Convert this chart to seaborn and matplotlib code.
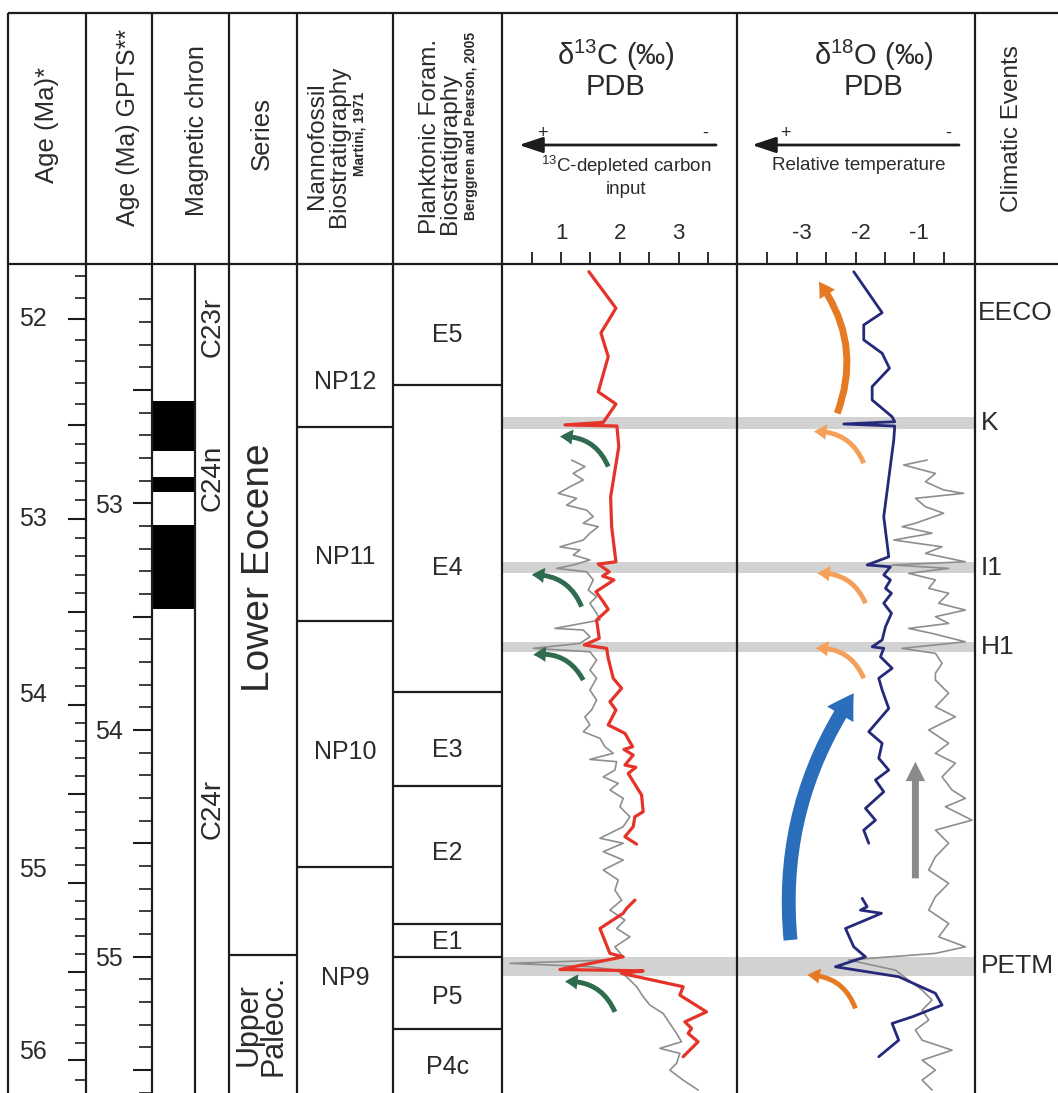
import numpy as np
import pandas as pd
import matplotlib
matplotlib.use("Agg")
import matplotlib.pyplot as plt
import seaborn as sns
from matplotlib.patches import FancyArrowPatch
from matplotlib.transforms import ScaledTranslation, blended_transform_factory

# ---------------------------------------------------------------- data
# vertical axis of every column: Age (Ma) on the GPTS scale
# Age* scale calibration (Age* value -> GPTS position)
star_cal_age = [51.8, 52.0, 52.5, 53.0, 53.5, 54.0, 54.5, 55.0, 55.5, 56.0, 56.1]
star_cal_gpts = [51.997, 52.187, 52.654, 53.069, 53.480, 53.890, 54.283, 54.676, 55.068, 55.457, 55.545]
age_star_major = [52.0, 52.5, 53.0, 53.5, 54.0, 54.5, 55.0, 55.5, 56.0]
age_star_minor = [51.8, 51.9, 52.1, 52.2, 52.3, 52.4, 52.6, 52.7, 52.8, 52.9,
                  53.1, 53.2, 53.3, 53.4, 53.6, 53.7, 53.8, 53.9, 54.1, 54.2,
                  54.3, 54.4, 54.6, 54.7, 54.8, 54.9, 55.1, 55.2, 55.3, 55.4,
                  55.6, 55.7, 55.8, 55.9, 56.1]
age_star_labels = ["52", "53", "54", "55", "56"]
age_star_label_val = [52.0, 53.0, 54.0, 55.0, 56.0]
gpts_major = [52.5, 53.0, 53.5, 54.0, 54.5, 55.0, 55.5]
gpts_labels = ["", "53", "", "54", "", "55", ""]
gpts_minor = [52.1, 52.2, 52.3, 52.4, 52.6, 52.7, 52.8, 52.9, 53.1, 53.2, 53.3, 53.4,
              53.6, 53.7, 53.8, 53.9, 54.1, 54.2, 54.3, 54.4, 54.6, 54.7, 54.8, 54.9,
              55.1, 55.2, 55.3, 55.4, 55.6]

# magnetic polarity (normal = black)
normal_top = [52.549, 52.885, 53.097]
normal_base = [52.770, 52.951, 53.465]
chron_names = ["C23r", "C24n", "C24r"]
chron_label_age = [52.222, 52.888, 54.349]

series_names = ["Lower Eocene", "Upper\nPaleoc."]
series_label_age = [53.286, 55.302]
series_bounds = [54.993]

nanno_names = ["NP12", "NP11", "NP10", "NP9"]
nanno_label_age = [52.465, 53.237, 54.098, 55.095]
nanno_bounds = [52.663, 53.519, 54.605]

plank_names = ["E5", "E4", "E3", "E2", "E1", "P5", "P4c"]
plank_label_age = [52.257, 53.286, 54.089, 54.543, 54.936, 55.179, 55.488]
plank_bounds = [52.478, 53.833, 54.248, 54.857, 55.002, 55.320]

event_names = ["K", "I1", "H1", "PETM"]
event_top = [52.621, 53.258, 53.611, 55.001]
event_base = [52.674, 53.309, 53.655, 55.086]
eeco_label_age = 52.160

# d13C coarse record (red), two segments
d13c_red_age_a = [51.978, 52.139, 52.248, 52.353, 52.508, 52.562, 52.643, 52.654, 52.659, 52.750,
                  52.971, 53.103, 53.258, 53.268, 53.302, 53.321, 53.338, 53.390, 53.434, 53.468,
                  53.515, 53.596, 53.625, 53.640, 53.684, 53.772, 53.816, 53.876, 53.912, 53.978,
                  54.015, 54.074, 54.086, 54.111, 54.155, 54.165, 54.192, 54.287, 54.361, 54.383,
                  54.427, 54.471, 54.504]
d13c_red_val_a = [1.474, 1.934, 1.679, 1.803, 1.633, 1.934, 1.718, 1.066, 1.951, 1.983,
                  1.844, 1.861, 1.934, 1.633, 1.820, 1.707, 1.900, 1.594, 1.718, 1.803,
                  1.605, 1.650, 1.395, 1.776, 1.803, 1.888, 2.031, 1.832, 1.934, 1.803,
                  2.087, 2.218, 2.070, 2.228, 2.087, 2.274, 2.143, 2.371, 2.398, 2.257,
                  2.228, 2.087, 2.286]
d13c_red_age_b = [54.751, 54.787, 54.809, 54.876, 54.986, 55.001, 55.057, 55.063, 55.074, 55.133,
                  55.170, 55.244, 55.288, 55.317, 55.339, 55.376, 55.442]
d13c_red_val_b = [2.257, 2.116, 2.058, 1.662, 1.832, 2.058, 0.981, 2.398, 2.031, 3.078,
                  3.022, 3.476, 3.107, 3.221, 3.163, 3.333, 3.078]

# d13C high-resolution record (grey)
d13c_grey_age = [52.809, 52.838, 52.868, 52.897, 52.927, 52.956, 52.978, 53.008, 53.030, 53.059,
                 53.088, 53.103, 53.132, 53.162, 53.192, 53.206, 53.228, 53.250, 53.272, 53.287,
                 53.302, 53.338, 53.383, 53.412, 53.441, 53.485, 53.515, 53.552, 53.559, 53.589,
                 53.618, 53.640, 53.655, 53.692, 53.736, 53.772, 53.824, 53.868, 53.912, 53.942,
                 53.978, 54.008, 54.037, 54.074, 54.103, 54.130, 54.140, 54.177, 54.207, 54.236,
                 54.265, 54.302, 54.339, 54.383, 54.427, 54.478, 54.500, 54.537, 54.574, 54.618,
                 54.662, 54.707, 54.751, 54.795, 54.839, 54.876, 54.913, 54.957, 54.993, 55.015,
                 55.030, 55.045, 55.060, 55.089, 55.133, 55.177, 55.214, 55.251, 55.295, 55.339,
                 55.376, 55.405, 55.427, 55.471, 55.501, 55.545, 55.589]
d13c_grey_val = [1.180, 1.406, 1.207, 1.378, 1.151, 0.952, 1.265, 1.095, 1.435, 1.548,
                 1.378, 1.633, 1.491, 1.378, 0.981, 1.321, 1.207, 1.491, 1.207, 0.925,
                 1.435, 1.548, 1.463, 1.605, 1.491, 1.605, 1.662, 0.896, 1.378, 1.491,
                 1.321, 0.527, 1.491, 1.605, 1.491, 1.605, 1.491, 1.605, 1.520, 1.406,
                 1.491, 1.378, 1.662, 1.747, 1.888, 1.491, 1.946, 1.917, 1.718, 1.973,
                 1.832, 2.058, 2.002, 2.172, 2.058, 1.662, 2.058, 1.718, 2.058, 1.718,
                 1.973, 1.917, 2.031, 1.832, 2.087, 1.946, 2.172, 1.917, 2.031, 1.832,
                 0.131, 1.491, 1.946, 2.116, 2.286, 2.398, 2.512, 2.738, 2.852, 2.966,
                 3.051, 2.682, 3.022, 2.966, 2.852, 3.078, 3.333]

# d18O coarse record (navy), two segments
d18o_navy_age_a = [51.978, 52.159, 52.213, 52.279, 52.338, 52.404, 52.485, 52.544, 52.618, 52.640,
                   52.650, 52.659, 52.721, 53.059, 53.236, 53.272, 53.280, 53.316, 53.338, 53.375,
                   53.397, 53.441, 53.485, 53.545, 53.603, 53.633, 53.640, 53.677, 53.728, 53.772,
                   53.824, 53.905, 54.008, 54.059, 54.125, 54.177, 54.221, 54.273, 54.346, 54.398,
                   54.442, 54.500]
d18o_navy_val_a = [-2.031, -1.548, -1.861, -1.861, -1.548, -1.424, -1.718, -1.718, -1.379, -1.334,
                   -2.200, -1.334, -1.351, -1.521, -1.436, -1.803, -1.407, -1.521, -1.407, -1.492,
                   -1.390, -1.521, -1.390, -1.492, -1.548, -1.718, -1.521, -1.577, -1.379, -1.606,
                   -1.548, -1.436, -1.776, -1.548, -1.606, -1.436, -1.662, -1.521, -1.832, -1.662,
                   -1.861, -1.776]
d18o_navy_age_b = [54.743, 54.780, 54.795, 54.809, 54.839, 54.876, 54.957, 55.001, 55.045, 55.089,
                   55.162, 55.214, 55.266, 55.295, 55.369, 55.442]
d18o_navy_val_b = [-1.888, -1.803, -1.917, -1.560, -1.832, -2.171, -2.031, -1.832, -2.341, -1.267,
                   -0.643, -0.530, -1.039, -1.379, -1.267, -1.606]

# d18O high-resolution record (grey)
d18o_grey_age = [52.809, 52.831, 52.868, 52.905, 52.941, 52.956, 52.978, 53.015, 53.044, 53.088,
                 53.103, 53.132, 53.162, 53.192, 53.221, 53.258, 53.272, 53.287, 53.309, 53.338,
                 53.375, 53.397, 53.441, 53.471, 53.500, 53.530, 53.552, 53.574, 53.611, 53.640,
                 53.662, 53.706, 53.750, 53.780, 53.838, 53.898, 53.942, 54.000, 54.059, 54.103,
                 54.147, 54.207, 54.265, 54.302, 54.339, 54.398, 54.442, 54.500, 54.560, 54.618,
                 54.677, 54.736, 54.795, 54.854, 54.913, 54.957, 54.986, 55.015, 55.060, 55.104,
                 55.148, 55.192, 55.236, 55.280, 55.324, 55.369, 55.413, 55.457, 55.501, 55.545,
                 55.589]
d18o_grey_val = [-0.784, -1.182, -0.643, -0.813, -0.503, -0.163, -0.983, -0.813, -0.503, -0.983,
                 -1.209, -0.700, -1.351, -0.530, -0.813, -0.134, -1.379, -0.418, -1.097, -0.643,
                 -0.757, -0.418, -0.587, -0.134, -0.643, -0.418, -1.097, -0.700, -0.134, -1.209,
                 -0.643, -0.530, -0.643, -0.643, -0.418, -0.643, -0.304, -0.757, -0.418, -0.643,
                 -0.304, -0.530, -0.360, -0.134, -0.474, -0.020, -0.643, -0.418, -0.643, -0.757,
                 -0.418, -0.643, -0.757, -0.418, -0.587, -0.134, -0.643, -2.115, -1.323, -1.097,
                 -0.869, -0.700, -0.869, -0.757, -0.983, -0.869, -0.360, -0.869, -0.643, -0.869,
                 -0.700]

# annotation arrows (value, age): tail -> head
c13_arrow_tail_val = [1.803, 1.350, 1.378, 1.917]
c13_arrow_tail_age = [52.838, 53.456, 53.780, 55.244]
c13_arrow_head_val = [0.981, 0.500, 0.527, 1.066]
c13_arrow_head_age = [52.706, 53.316, 53.669, 55.111]
o18_arrow_tail_val = [-1.861, -1.832, -1.861, -2.002]
o18_arrow_tail_age = [52.823, 53.441, 53.772, 55.229]
o18_arrow_head_val = [-2.710, -2.652, -2.681, -2.822]
o18_arrow_head_age = [52.684, 53.309, 53.640, 55.082]
eeco_arrow = [(-2.312, 52.603), (-2.625, 52.022)]
cooling_arrow = [(-3.105, 54.927), (-2.031, 53.838)]
trend_arrow = [(-0.983, 54.655), (-0.983, 54.140)]

# ---------------------------------------------------------------- style
sns.set_theme(style="white")
plt.rcParams['font.family'] = ['Liberation Sans', 'DejaVu Sans']
plt.rcParams['mathtext.fontset'] = 'custom'
plt.rcParams['mathtext.rm'] = 'Liberation Sans'
plt.rcParams['mathtext.it'] = 'Liberation Sans:italic'
plt.rcParams['mathtext.bf'] = 'Liberation Sans:bold'
plt.rcParams['axes.unicode_minus'] = False

INK = '#2b2b2b'
LINE = '#1c1c1c'
RED = '#e5332a'
NAVY = '#25297a'
GREY = '#8e8e8e'
BAND = '#d2d2d2'
GREEN = '#2f6b4f'
ORANGE_L = '#f5a05a'
ORANGE_D = '#e57a22'
BLUE = '#2a6dbb'

W, H = 1058, 1093
TOP, BOT, HTOP = 264, 1093, 13
edges = [8, 86, 152, 229, 297, 393, 502.3, 737.3, 975, 1058]
AGE_TOP, AGE_BOT = 51.944, 55.602

fig = plt.figure(figsize=(W / 100, H / 100), dpi=100, facecolor='white')
bg = fig.add_axes([0, 0, 1, 1], zorder=0)
bg.set_xlim(0, W)
bg.set_ylim(H, 0)
bg.axis('off')

cols = []
for i in range(9):
    x0, x1 = edges[i], edges[i + 1]
    ax = fig.add_axes([x0 / W, 1 - BOT / H, (x1 - x0) / W, (BOT - TOP) / H], zorder=2)
    ax.set_facecolor('none')
    for s in ['top', 'bottom', 'right']:
        ax.spines[s].set_visible(False)
    ax.spines['left'].set_color(LINE)
    ax.spines['left'].set_linewidth(1.6)
    ax.tick_params(left=False, bottom=False, top=False, right=False,
                   labelleft=False, labelbottom=False)
    ax.grid(False)
    cols.append(ax)

# header frame
bg.hlines([HTOP, TOP], edges[0], W, color=LINE, lw=1.6)
bg.vlines(edges[:-1], HTOP, TOP, color=LINE, lw=1.6)


def htext(x, y, s, fs=18, rot=90, **kw):
    bg.text(x, y, s, fontsize=fs, rotation=rot, ha='center', va='center',
            color=INK, **kw)


htext(47, 125, "Age (Ma)*", 18.5)
htext(128, 127, "Age (Ma) GPTS**", 18)
htext(197, 131, "Magnetic chron", 18)
htext(262, 133, "Series", 18.5)
htext(328, 146, "Nannofossil\nBiostratigraphy", 17.5, linespacing=0.98,
      multialignment='center')
htext(360, 134, "Martini, 1971", 10, fontweight='bold')
htext(440, 136, "Planktonic Foram.\nBiostratigraphy", 17.5, linespacing=0.9,
      multialignment='left')
htext(471, 126, "Berggren and Pearson, 2005", 10, fontweight='bold')
htext(1012, 129, "Climatic Events", 17.5)

htext(616, 55, r"δ$^{\mathrm{13}}$C (‰)", 21, rot=0)
htext(616, 87, "PDB", 21, rot=0)
htext(626, 166, r"$^{\mathrm{13}}$C-depleted carbon", 13.5, rot=0)
htext(626, 189, "input", 13.5, rot=0)
htext(542, 133, "+", 13, rot=0)
htext(705, 133, "-", 13, rot=0)
htext(874, 55, r"δ$^{\mathrm{18}}$O (‰)", 21, rot=0)
htext(873, 87, "PDB", 21, rot=0)
htext(859, 166, "Relative temperature", 13.5, rot=0)
htext(785, 133, "+", 13, rot=0)
htext(948, 133, "-", 13, rot=0)
for (xa, xb) in [(716, 519), (959, 752)]:
    bg.add_patch(FancyArrowPatch((xa, 145), (xb, 145),
                                 arrowstyle='-|>,head_length=0.9,head_width=0.3',
                                 mutation_scale=16, lw=2, color=LINE,
                                 shrinkA=0, shrinkB=0))


def profile(ax, vals, ages, color, lw, z):
    df = pd.DataFrame({'value': vals, 'age': ages})
    sns.lineplot(data=df, x='value', y='age', sort=False, estimator=None,
                 ax=ax, color=color, lw=lw, zorder=z)
    ax.set_xlabel('')
    ax.set_ylabel('')


def curved_arrow(ax, tail, head, color, rad, style):
    ax.add_patch(FancyArrowPatch(tail, head, connectionstyle=f"arc3,rad={rad}",
                                 arrowstyle=style, color=color, lw=0,
                                 mutation_scale=1, shrinkA=0, shrinkB=0, zorder=4))


# ---- column 1: Age* labels (slightly raised in the lower part, as in the original)
ax = cols[0]
ax.set_xlim(0, 1)
label_dy_px = [0, 0, 10, 13, 8]
tr = blended_transform_factory(ax.transAxes, ax.transData)
for lab, v, dy in zip(age_star_labels, age_star_label_val, label_dy_px):
    ax.text(0.32, np.interp(v, star_cal_age, star_cal_gpts), lab, ha='center', va='center',
            fontsize=18, color=INK,
            transform=tr + ScaledTranslation(0, dy / 100, fig.dpi_scale_trans))

# ---- column 2: Age* ruler (ticks on its left edge)
ax = cols[1]
ax.set_yticks(np.interp(age_star_major, star_cal_age, star_cal_gpts))
ax.set_yticks(np.interp(age_star_minor, star_cal_age, star_cal_gpts), minor=True)
ax.tick_params(axis='y', which='major', left=True, labelleft=False, direction='out',
               length=13, width=1.5, color=LINE)
ax.tick_params(axis='y', which='minor', left=True, direction='out', length=8,
               width=1.2, color=LINE)

# ---- column 3: magnetic chron + GPTS ruler
ax = cols[2]
ax.set_xlim(0, 1)
mids = [(a + b) / 2 for a, b in zip(normal_top, normal_base)]
durs = [b - a for a, b in zip(normal_top, normal_base)]
ax.barh(y=mids, width=0.558, height=durs, left=0, color='black', edgecolor='none')
ax.axvline(0.558, color=LINE, lw=1.6)
for name, a in zip(chron_names, chron_label_age):
    ax.text(0.785, a, name, rotation=90, ha='center', va='center', fontsize=20, color=INK)
ax.set_yticks(gpts_major, labels=gpts_labels)
ax.set_yticks(gpts_minor, minor=True)
ax.tick_params(axis='y', which='major', left=True, labelleft=True, direction='out',
               length=13.7, width=1.5, color=LINE, pad=7, labelsize=18, labelcolor=INK)
ax.tick_params(axis='y', which='minor', left=True, direction='out', length=9.4,
               width=1.2, color=LINE)

# ---- column 4: series
ax = cols[3]
ax.set_xlim(0, 1)
ax.hlines(series_bounds, 0, 1, color=LINE, lw=1.6)
ax.text(0.44, series_label_age[0], series_names[0], rotation=90, ha='center',
        va='center', fontsize=28, color=INK)
ax.text(0.47, series_label_age[1], series_names[1], rotation=90, ha='center',
        va='center', fontsize=22, color=INK, linespacing=0.8, multialignment='center')

# ---- column 5, 6: biostratigraphy
for ax, names, ages, bounds in [(cols[4], nanno_names, nanno_label_age, nanno_bounds),
                                (cols[5], plank_names, plank_label_age, plank_bounds)]:
    ax.set_xlim(0, 1)
    ax.hlines(bounds, 0, 1, color=LINE, lw=1.6)
    for n, a in zip(names, ages):
        ax.text(0.5, a, n, ha='center', va='center', fontsize=18, color=INK)

# ---- column 7: d13C
ax = cols[6]
for t, b in zip(event_top, event_base):
    ax.axhspan(t, b, color=BAND, lw=0, zorder=1)
profile(ax, d13c_grey_val, d13c_grey_age, GREY, 1.2, 2)
profile(ax, d13c_red_val_a, d13c_red_age_a, RED, 2.3, 3)
profile(ax, d13c_red_val_b, d13c_red_age_b, RED, 2.3, 3)
for tv, ta, hv, ha in zip(c13_arrow_tail_val, c13_arrow_tail_age,
                          c13_arrow_head_val, c13_arrow_head_age):
    curved_arrow(ax, (tv, ta), (hv, ha), GREEN, 0.35,
                 "simple,head_length=9,head_width=11,tail_width=3.5")
ax.set_xlim(0, 4)
ax.xaxis.set_ticks_position('top')
ax.set_xticks([1, 2, 3])
ax.set_xticks([0.5, 1.5, 2.5, 3.5], minor=True)
ax.tick_params(axis='x', which='both', top=True, labeltop=True, bottom=False,
               labelbottom=False, direction='out', length=8.5, width=1.3, color=LINE,
               labelsize=16, pad=6, labelcolor=INK)

# ---- column 8: d18O
ax = cols[7]
for t, b in zip(event_top, event_base):
    ax.axhspan(t, b, color=BAND, lw=0, zorder=1)
profile(ax, d18o_grey_val, d18o_grey_age, GREY, 1.2, 2)
profile(ax, d18o_navy_val_a, d18o_navy_age_a, NAVY, 2.0, 3)
profile(ax, d18o_navy_val_b, d18o_navy_age_b, NAVY, 2.0, 3)
for i, (tv, ta, hv, ha) in enumerate(zip(o18_arrow_tail_val, o18_arrow_tail_age,
                                         o18_arrow_head_val, o18_arrow_head_age)):
    curved_arrow(ax, (tv, ta), (hv, ha), ORANGE_D if i == 3 else ORANGE_L, 0.35,
                 "simple,head_length=9,head_width=11,tail_width=3.5")
curved_arrow(ax, eeco_arrow[0], eeco_arrow[1], ORANGE_D, 0.27,
             "simple,head_length=11,head_width=13,tail_width=5")
curved_arrow(ax, cooling_arrow[0], cooling_arrow[1], BLUE, -0.18,
             "simple,head_length=18,head_width=22,tail_width=10")
curved_arrow(ax, trend_arrow[0], trend_arrow[1], '#8a8a8a', 0.0,
             "simple,head_length=14,head_width=14,tail_width=5")
ax.set_xlim(-4.01, 0.03)
ax.xaxis.set_ticks_position('top')
ax.set_xticks([-3, -2, -1])
ax.set_xticks([-3.5, -2.5, -1.5, -0.5], minor=True)
ax.tick_params(axis='x', which='both', top=True, labeltop=True, bottom=False,
               labelbottom=False, direction='out', length=8.5, width=1.3, color=LINE,
               labelsize=16, pad=6, labelcolor=INK)
for lab in ax.get_xticklabels():
    lab.set_transform(lab.get_transform() + ScaledTranslation(0.05, 0, fig.dpi_scale_trans))

# ---- column 9: climatic events
ax = cols[8]
ax.set_xlim(0, 1)
ax.text(0.04, eeco_label_age, "EECO", ha='left', va='center', fontsize=19, color=INK)
for n, t, b in zip(event_names, event_top, event_base):
    ax.text(0.07, (t + b) / 2, n, ha='left', va='center', fontsize=19, color=INK)

for ax in cols:
    ax.set_ylim(AGE_BOT, AGE_TOP)

fig.savefig("out.png", dpi=100, facecolor='white')
